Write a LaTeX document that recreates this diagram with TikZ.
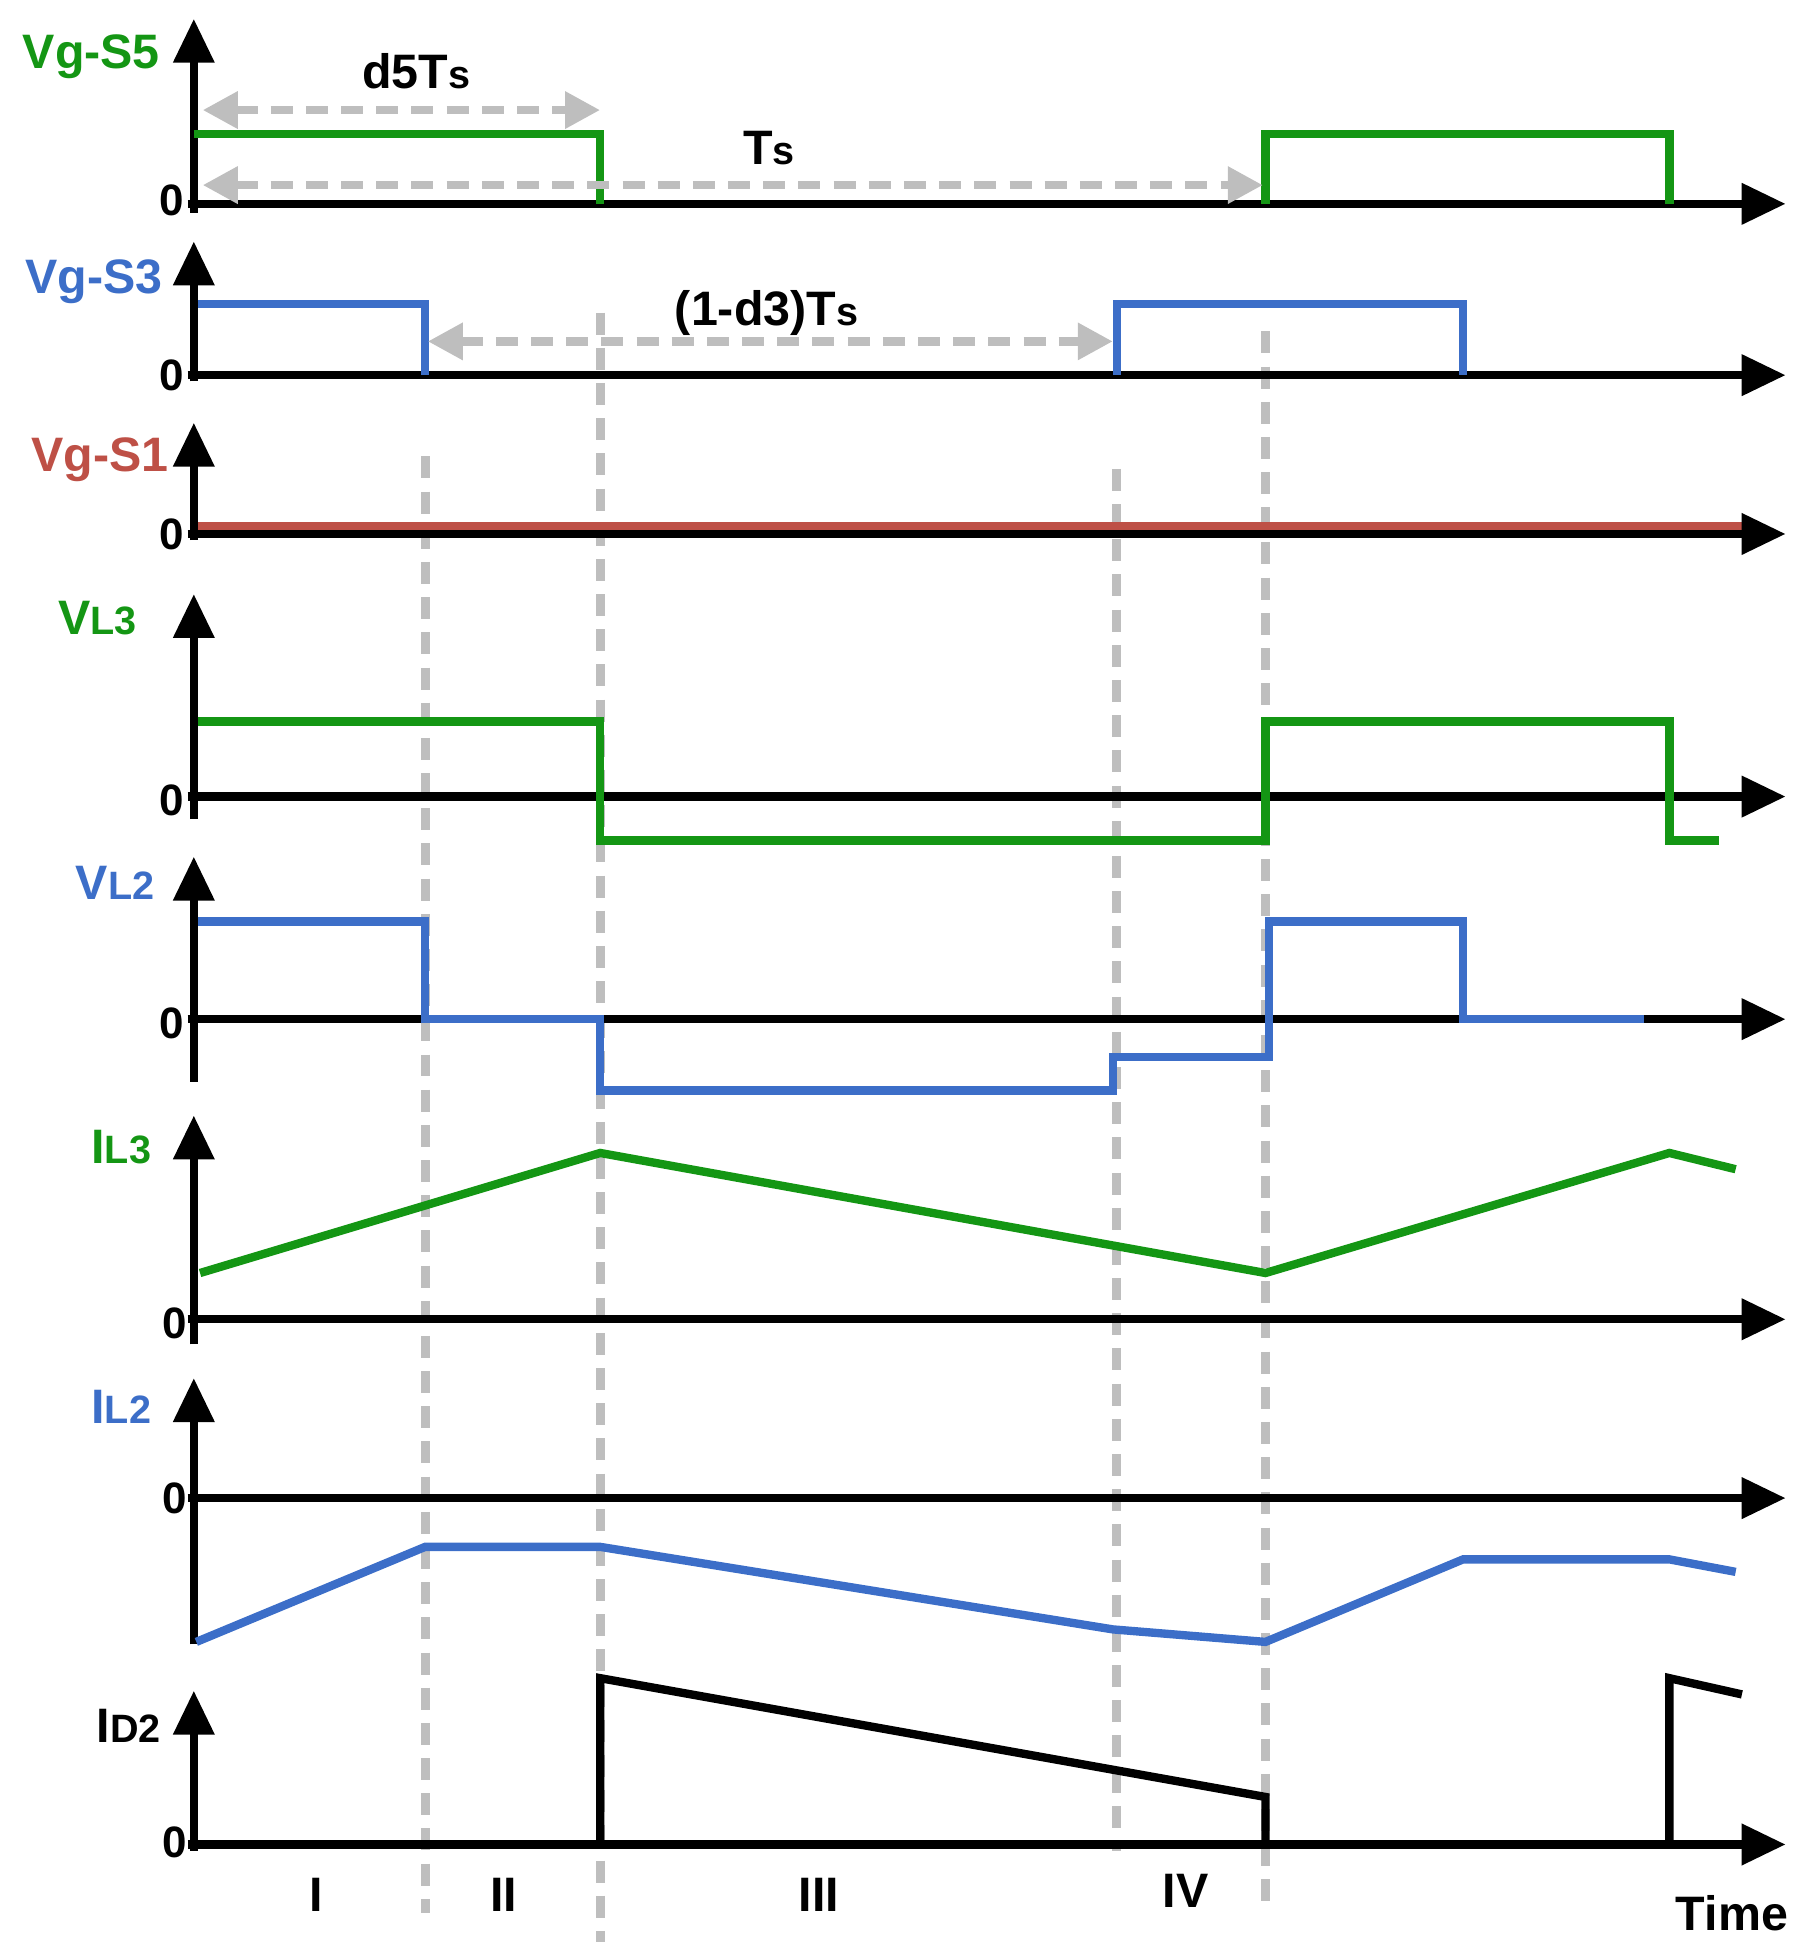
\documentclass[tikz,border=0pt]{standalone}
\usepackage{fontspec}
\setmainfont{Liberation Sans}
\usetikzlibrary{arrows.meta}
\definecolor{cg}{RGB}{20,150,20}
\definecolor{cb}{RGB}{60,110,200}
\definecolor{cr}{RGB}{190,80,70}
\definecolor{gr}{RGB}{190,190,190}
\tikzset{
 ax/.style={line width=1.9pt,-{Triangle[length=10pt,width=9pt]}},
 sig/.style={line width=1.9pt},
 vd/.style={gr,line width=2pt,dash pattern=on 5pt off 3pt},
 dim/.style={gr,line width=2pt,dash pattern=on 5pt off 3pt,{Triangle[length=8pt,width=8pt]}-{Triangle[length=8pt,width=8pt]}},
 lab/.style={font=\bfseries\fontsize{11}{12}\selectfont,inner sep=0},
 zl/.style={font=\bfseries\fontsize{10}{12}\selectfont,inner sep=0},
}
\begin{document}
\begin{tikzpicture}[x=0.01cm,y=-0.01cm]
\useasboundingbox (0,0) rectangle (1440,1553);
% vertical dashed
\draw[vd] (340,365) -- (340,1530);
\draw[vd] (480,250) -- (480,1565);
\draw[vd] (893,375) -- (893,1480);
\draw[vd] (1012,265) -- (1012,1520);
% panel 1
\draw[ax] (155,170) -- (155,15); \draw[ax] (150,163) -- (1428,163);
\draw[sig,cg] (155,107) -- (480,107) -- (480,163);
\draw[sig,cg] (1012,163) -- (1012,107) -- (1335,107) -- (1335,163);
\draw[dim] (162,88) -- (480,88); \node[lab] at (333,57) {d5T{\small s}};
\draw[dim] (162,148) -- (1010,148); \node[lab] at (615,118) {T{\small s}};
\node[lab,cg] at (73,45) {Vg-S5}; \node[zl] at (137,160) {0};
% panel 2
\draw[ax] (155,305) -- (155,193); \draw[ax] (150,300) -- (1428,300);
\draw[sig,cb] (158,243) -- (340,243) -- (340,300);
\draw[sig,cb] (893,300) -- (893,243) -- (1170,243) -- (1170,300);
\draw[dim] (342,273) -- (890,273); \node[lab] at (613,250) {(1-d3)T{\small s}};
\node[lab,cb] at (75,225) {Vg-S3}; \node[zl] at (137,300) {0};
% panel 3
\draw[sig,cr] (158,421) -- (1400,421);
\draw[ax] (155,432) -- (155,338); \draw[ax] (150,427) -- (1428,427);
\node[lab,cr] at (80,368) {Vg-S1}; \node[zl] at (137,427) {0};
% panel 4
\draw[ax] (155,655) -- (155,475); \draw[ax] (150,637) -- (1428,637);
\draw[sig,cg] (158,577) -- (480,577) -- (480,672) -- (1012,672) -- (1012,577) -- (1335,577) -- (1335,672) -- (1375,672);
\node[lab,cg] at (78,494) {V{\small L3}}; \node[zl] at (137,640) {0};
\draw[ax] (150,815) -- (1428,815);
% panel 5
\draw[ax] (155,865) -- (155,685);
\draw[sig,cb] (158,737) -- (340,737) -- (340,815) -- (480,815) -- (480,872) -- (890,872) -- (890,845) -- (1015,845) -- (1015,737) -- (1170,737) -- (1170,815) -- (1315,815);
\node[lab,cb] at (92,706) {V{\small L2}}; \node[zl] at (137,818) {0};
% panel 6
\draw[ax] (155,1075) -- (155,892); \draw[ax] (150,1055) -- (1428,1055);
\draw[sig,cg] (160,1018) -- (480,922) -- (1012,1018) -- (1335,922) -- (1388,935);
\node[lab,cg] at (97,917) {I{\small L3}}; \node[zl] at (140,1058) {0};
% panel 7
\draw[ax] (155,1315) -- (155,1102); \draw[ax] (150,1198) -- (1428,1198);
\draw[sig,cb] (157,1313) -- (340,1237) -- (480,1237) -- (890,1303) -- (1012,1313) -- (1170,1247) -- (1335,1247) -- (1388,1257);
\node[lab,cb] at (97,1125) {I{\small L2}}; \node[zl] at (140,1198) {0};
% panel 8
\draw[ax] (155,1480) -- (155,1352); \draw[ax] (150,1475) -- (1428,1475);
\draw[sig] (480,1475) -- (480,1342) -- (1012,1437) -- (1012,1475);
\draw[sig] (1335,1475) -- (1335,1342) -- (1393,1355);
\node[lab] at (103,1380) {I{\small D2}}; \node[zl] at (140,1473) {0};
\node[lab] at (253,1515) {I}; \node[lab] at (403,1515) {II};
\node[lab] at (655,1515) {III}; \node[lab] at (948,1512) {IV};
\node[lab] at (1385,1530) {Time};
\end{tikzpicture}
\end{document}
